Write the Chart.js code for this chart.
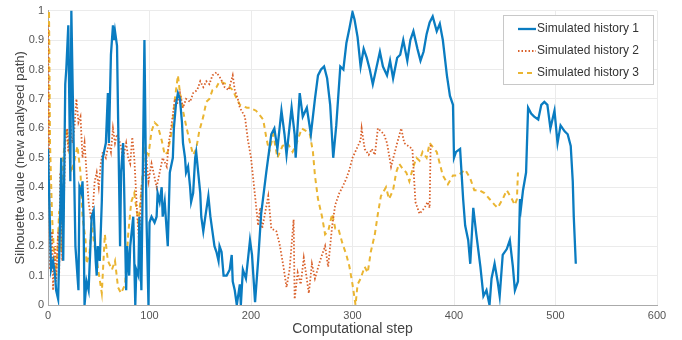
<!DOCTYPE html>
<html>
<head>
<meta charset="utf-8">
<title>Silhouette value</title>
<script src="https://cdn.jsdelivr.net/npm/chart.js@4"></script>
<style>
    html, body { margin: 0; padding: 0; background: #fff; }
    #wrap { width: 682px; height: 340px; position: relative; }
</style>
</head>
<body>
<div id="wrap"><canvas id="silhouetteChart" width="682" height="340"></canvas></div>
<script>
const seriesNames = ['Simulated history 1', 'Simulated history 2', 'Simulated history 3'];
const xTicks = [0, 100, 200, 300, 400, 500, 600];

const steps1 = [0, 3, 5, 7, 8, 10, 12, 13, 15, 17, 18, 20, 22, 23, 25, 27, 29, 30, 31, 33, 34, 35, 36, 38, 40, 43, 45, 47, 48, 49,
    51, 53, 54, 57, 59, 60, 62, 64, 65, 66, 68, 69, 71, 72, 74, 75, 77, 78, 80, 81, 84, 86, 87, 89, 90, 92, 95, 97, 99, 100,
    102, 105, 107, 108, 110, 112, 113, 115, 117, 118, 120, 123, 124, 126, 128, 130, 132, 133, 135, 136, 138, 140, 141, 143, 145, 146, 148, 150,
    151, 153, 155, 158, 160, 162, 164, 166, 168, 169, 171, 173, 176, 179, 181, 182, 184, 186, 189,
    190, 192, 195, 199, 201, 204, 207, 210, 215, 220, 223, 226, 230, 233, 235, 240, 243, 244, 248, 251, 255, 259, 263, 266, 269,
    272, 275, 278, 281, 284, 288, 291, 294, 297, 300, 302, 305, 308, 311, 314, 317, 320, 327, 330, 334, 337, 340, 344, 347, 350,
    354, 357, 360, 364, 367, 370, 373, 376, 379, 383, 386, 389, 393, 396, 399, 400, 402, 406, 409, 411, 414, 416, 419, 422, 426,
    429, 432, 435, 437, 440, 443, 445, 448, 452, 455, 458, 460, 463, 465, 466, 468, 471, 473, 476, 479, 483, 486, 489, 492, 495,
    499, 502, 505, 509, 512, 515, 517, 518, 520];
const values1 = [0.53, 0.12, 0.15, 0.1, 0.05, 0.02, 0.3, 0.5, 0.15, 0.75, 0.8, 0.95, 0.42, 1.0, 0.6, 0.2, 0.1, 0.05, 0.4, 0.38, 0.42, 0.3, 0.0, 0.08, 0.05, 0.3, 0.32, 0.15, 0.1, 0.2,
    0.15, 0.35, 0.5, 0.55, 0.72, 0.55, 0.85, 0.95, 0.9, 0.93, 0.88, 0.65, 0.2, 0.45, 0.55, 0.4, 0.05, 0.2, 0.1, 0.2, 0.3, 0.0, 0.12, 0.1, 0.3, 0.05, 0.9, 0.3, 0.0, 0.28,
    0.3, 0.28, 0.3, 0.38, 0.35, 0.4, 0.3, 0.35, 0.25, 0.2, 0.45, 0.5, 0.6, 0.68, 0.72, 0.7, 0.62, 0.55, 0.5, 0.45, 0.47, 0.4, 0.35, 0.38, 0.5, 0.52, 0.45, 0.38,
    0.3, 0.25, 0.3, 0.37, 0.3, 0.25, 0.2, 0.18, 0.15, 0.2, 0.18, 0.1, 0.1, 0.12, 0.17, 0.08, 0.05, 0.0, 0.07,
    0.0, 0.12, 0.09, 0.22, 0.17, 0.01, 0.15, 0.31, 0.45, 0.58, 0.6, 0.53, 0.66, 0.58, 0.51, 0.67, 0.58, 0.5, 0.72, 0.64, 0.67, 0.58, 0.7, 0.78, 0.8,
    0.81, 0.77, 0.68, 0.5, 0.61, 0.81, 0.8, 0.89, 0.94, 0.995, 0.97, 0.91, 0.81, 0.87, 0.84, 0.8, 0.75, 0.86, 0.81, 0.78, 0.83, 0.77, 0.84, 0.85, 0.9,
    0.83, 0.9, 0.93, 0.87, 0.83, 0.86, 0.92, 0.96, 0.98, 0.93, 0.955, 0.9, 0.78, 0.71, 0.68, 0.5, 0.52, 0.53, 0.36, 0.27, 0.22, 0.14, 0.33, 0.24, 0.13,
    0.03, 0.05, 0.0, 0.09, 0.14, 0.08, 0.03, 0.17, 0.19, 0.22, 0.13, 0.05, 0.08, 0.36, 0.33, 0.39, 0.45, 0.67, 0.65, 0.64, 0.63, 0.68, 0.69, 0.68, 0.6,
    0.66, 0.55, 0.61, 0.59, 0.58, 0.54, 0.42, 0.3, 0.14];

const steps2 = [0, 1, 2, 4, 5, 7, 8, 10, 11, 12, 14, 16, 17, 19, 20, 22, 24, 26, 28, 30, 32, 34, 36, 38, 40, 42, 44, 46, 48, 50,
    52, 54, 57, 60, 62, 64, 66, 68, 71, 74, 77, 79, 81, 83, 85, 88, 90, 92, 95, 97, 99, 102, 104, 107, 110, 113, 117, 119, 122, 125,
    127, 130, 133, 136, 140, 143, 147, 150, 153, 156, 159, 162, 166, 170, 174, 178, 182, 184, 187, 189, 194, 197, 200, 204, 207, 209,
    211, 217, 220, 225, 228, 232, 235, 238, 242, 243, 246, 249, 252, 257, 260, 263, 268, 273, 276, 280, 283, 287, 290, 294, 297, 300,
    304, 308, 309, 312, 316, 319, 322, 325, 328, 331, 334, 338, 341, 344, 348, 351, 355, 359, 362, 366, 371, 374, 376, 377];
const values2 = [0.95, 0.55, 0.12, 0.25, 0.05, 0.2, 0.08, 0.25, 0.1, 0.45, 0.15, 0.4, 0.55, 0.6, 0.52, 0.62, 0.55, 0.6, 0.7, 0.62, 0.64, 0.5, 0.55, 0.45, 0.35, 0.3, 0.32, 0.42, 0.45, 0.4,
    0.48, 0.52, 0.5, 0.55, 0.52, 0.6, 0.55, 0.58, 0.55, 0.5, 0.55, 0.5, 0.48, 0.57, 0.5, 0.3, 0.2, 0.4, 0.45, 0.5, 0.42, 0.48, 0.45, 0.4, 0.45, 0.5, 0.47, 0.55, 0.62, 0.7,
    0.68, 0.72, 0.67, 0.7, 0.69, 0.72, 0.73, 0.76, 0.74, 0.76, 0.75, 0.78, 0.79, 0.77, 0.74, 0.73, 0.78, 0.73, 0.7, 0.67, 0.64, 0.56, 0.5, 0.37, 0.27, 0.33,
    0.26, 0.37, 0.26, 0.25, 0.21, 0.13, 0.06, 0.12, 0.29, 0.02, 0.11, 0.07, 0.16, 0.04, 0.14, 0.09, 0.15, 0.2, 0.13, 0.27, 0.34, 0.38, 0.4, 0.43, 0.46, 0.5,
    0.53, 0.56, 0.6, 0.53, 0.51, 0.53, 0.51, 0.6, 0.59, 0.58, 0.55, 0.47, 0.51, 0.55, 0.6, 0.55, 0.54, 0.53, 0.35, 0.31, 0.33, 0.35, 0.33, 0.55];

const steps3 = [0, 1, 2, 4, 6, 8, 10, 11, 13, 15, 18, 20, 23, 26, 29, 32, 34, 37, 38, 41, 43, 45, 49, 53, 56, 59, 63, 66, 69, 72,
    76, 79, 82, 85, 89, 92, 95, 99, 102, 105, 108, 112, 115, 118, 122, 125, 128, 130, 133, 136, 140, 143, 146, 149, 153, 156, 159, 162, 166, 169,
    176, 182, 186, 189, 196, 199, 205, 212, 215, 218, 222, 226, 231, 236, 241, 245, 250, 255, 258, 261, 263, 266, 270, 273, 276, 280,
    283, 286, 290, 294, 297, 300, 303, 305, 308, 312, 315, 318, 322, 325, 328, 333, 336, 340, 343, 346, 350, 353, 356, 359, 363, 366,
    369, 373, 376, 383, 389, 394, 399, 404, 411, 416, 420, 425, 430, 435, 440, 443, 448, 452, 457, 460, 462, 463];
const values3 = [0.55, 1.0, 0.55, 0.3, 0.17, 0.1, 0.24, 0.32, 0.18, 0.5, 0.6, 0.55, 0.45, 0.49, 0.54, 0.45, 0.3, 0.22, 0.14, 0.18, 0.28, 0.22, 0.13, 0.04, 0.24, 0.15, 0.12, 0.15, 0.06, 0.04,
    0.07, 0.24, 0.35, 0.38, 0.28, 0.39, 0.53, 0.51, 0.59, 0.62, 0.61, 0.56, 0.51, 0.52, 0.59, 0.7, 0.78, 0.72, 0.66, 0.61, 0.55, 0.51, 0.53, 0.59, 0.64, 0.69, 0.7, 0.73, 0.74, 0.76,
    0.75, 0.73, 0.7, 0.68, 0.67, 0.67, 0.66, 0.63, 0.57, 0.52, 0.58, 0.5, 0.54, 0.55, 0.52, 0.55, 0.6, 0.59, 0.58, 0.52, 0.44, 0.36, 0.3, 0.24, 0.25, 0.31,
    0.26, 0.26, 0.21, 0.17, 0.13, 0.07, 0.0, 0.07, 0.09, 0.13, 0.11, 0.18, 0.24, 0.31, 0.37, 0.4, 0.36, 0.39, 0.45, 0.48, 0.46, 0.45, 0.42, 0.46, 0.5, 0.49,
    0.52, 0.5, 0.55, 0.52, 0.44, 0.41, 0.44, 0.44, 0.46, 0.43, 0.39, 0.39, 0.38, 0.36, 0.34, 0.33, 0.36, 0.39, 0.36, 0.34, 0.36, 0.45];

function toPoints(xs, ys) {
    return xs.map((x, i) => ({ x: x, y: ys[i] }));
}

// legend drawn inside the plot, MATLAB style
const boxLegend = {
    id: 'boxLegend',
    afterDraw(chart) {
        const c = chart.ctx;
        const x = 503, y = 15, w = 150, h = 69;
        c.save();
        c.fillStyle = '#fff';
        c.fillRect(x, y, w, h);
        c.strokeStyle = '#c8c8c8';
        c.lineWidth = 1;
        c.strokeRect(x + 0.5, y + 0.5, w, h);
        c.font = '12px "Liberation Sans", Arial, sans-serif';
        c.textBaseline = 'middle';
        chart.data.datasets.forEach((ds, i) => {
            const ly = y + 14 + i * 22;
            c.strokeStyle = ds.borderColor;
            c.lineWidth = ds.borderWidth;
            c.setLineDash(ds.borderDash || []);
            c.beginPath();
            c.moveTo(x + 15, ly);
            c.lineTo(x + 33, ly);
            c.stroke();
            c.setLineDash([]);
            c.fillStyle = '#333';
            c.fillText(ds.label, x + 34, ly);
        });
        c.restore();
    }
};

document.addEventListener('DOMContentLoaded', function() {
    const ctx = document.getElementById('silhouetteChart').getContext('2d');
    new Chart(ctx, {
        type: 'line',
        data: {
            datasets: [{
                label: seriesNames[0],
                data: toPoints(steps1, values1),
                borderColor: '#0a7cc1',
                borderWidth: 2.3
            }, {
                label: seriesNames[1],
                data: toPoints(steps2, values2),
                borderColor: '#d9602a',
                borderWidth: 1.8,
                borderDash: [1.5, 2]
            }, {
                label: seriesNames[2],
                data: toPoints(steps3, values3),
                borderColor: '#eab532',
                borderWidth: 2,
                borderDash: [5, 4]
            }]
        },
        options: {
            responsive: false,
            animation: false,
            elements: {
                point: { radius: 0 },
                line: { tension: 0, fill: false }
            },
            layout: { padding: { left: 0, right: 25, top: 10, bottom: 0 } },
            plugins: {
                legend: { display: false },
                tooltip: { enabled: false }
            },
            scales: {
                x: {
                    type: 'linear',
                    min: 0,
                    max: 600,
                    afterBuildTicks: scale => { scale.ticks = xTicks.map(v => ({ value: v })); },
                    afterFit: scale => { scale.height = 35; },
                    grid: { color: '#ebebeb', drawTicks: false },
                    border: { color: '#aaaaaa' },
                    ticks: {
                        padding: 4,
                        color: '#555',
                        font: { family: '"Liberation Sans", Arial, sans-serif', size: 11 }
                    },
                    title: {
                        display: true,
                        text: 'Computational step',
                        color: '#444',
                        padding: { top: 0, bottom: 2 },
                        font: { family: '"Liberation Sans", Arial, sans-serif', size: 14 }
                    }
                },
                y: {
                    min: 0,
                    max: 1,
                    afterFit: scale => { scale.width = 48; },
                    grid: { color: '#ebebeb', drawTicks: false },
                    border: { color: '#aaaaaa' },
                    ticks: {
                        stepSize: 0.1,
                        padding: 4,
                        color: '#555',
                        font: { family: '"Liberation Sans", Arial, sans-serif', size: 11 },
                        callback: v => String(Math.round(v * 10) / 10)
                    },
                    title: {
                        display: true,
                        text: 'Silhouette value (new analysed path)',
                        color: '#444',
                        padding: { top: 13, bottom: 0 },
                        font: { family: '"Liberation Sans", Arial, sans-serif', size: 13 }
                    }
                }
            }
        },
        plugins: [boxLegend]
    });
});
</script>
</body>
</html>
